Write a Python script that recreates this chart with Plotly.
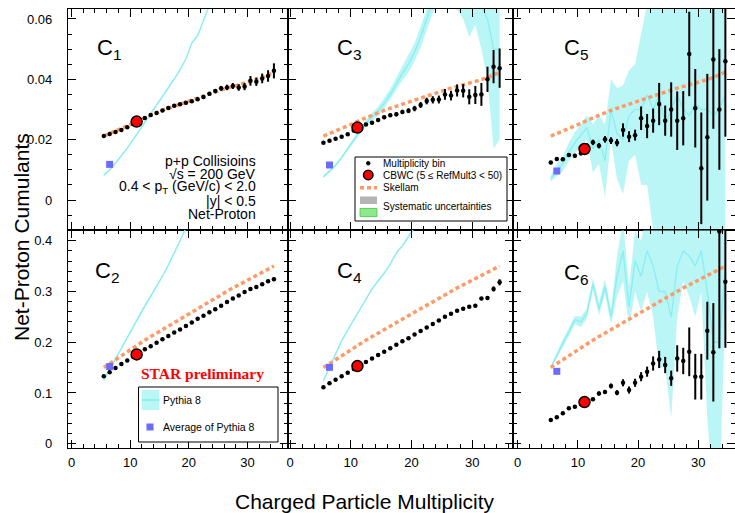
import plotly.graph_objects as go

# ---------------- data ----------------
mult = [5.5, 6.5, 7.5, 8.5, 9.5, 10.5, 11.5, 12.5, 13.5, 14.5, 15.5, 16.5, 17.5, 18.5, 19.5,
        20.5, 21.5, 22.5, 23.5, 24.5, 25.5, 26.5, 27.5, 28.5, 29.5, 30.5, 31.5, 32.5, 33.5, 34.5]

c1 = [0.0212, 0.0219, 0.0225, 0.0232, 0.0241, 0.0252, 0.0262, 0.0272, 0.0282, 0.0288, 0.0297, 0.0305,
      0.0312, 0.0317, 0.0322, 0.0327, 0.0334, 0.0341, 0.0352, 0.0361, 0.0370, 0.0373, 0.0378, 0.0373,
      0.0376, 0.0395, 0.0392, 0.0403, 0.0411, 0.0428]
c1_err = [0.0003, 0.0003, 0.0003, 0.0003, 0.0003, 0.0003, 0.0003, 0.0003, 0.0003, 0.0003, 0.0004, 0.0004,
          0.0004, 0.0004, 0.0005, 0.0005, 0.0005, 0.0006, 0.0006, 0.0007, 0.0008, 0.0009, 0.0010, 0.0011,
          0.0012, 0.0016, 0.0014, 0.0016, 0.0019, 0.0025]

c2 = [0.133, 0.141, 0.149, 0.157, 0.164, 0.172, 0.179, 0.186, 0.192, 0.199, 0.206, 0.212, 0.219, 0.225,
      0.232, 0.239, 0.246, 0.252, 0.259, 0.265, 0.272, 0.279, 0.286, 0.292, 0.299, 0.305, 0.309, 0.314,
      0.320, 0.324]
c2_err = [0.001, 0.001, 0.001, 0.001, 0.001, 0.001, 0.001, 0.001, 0.001, 0.001, 0.001, 0.001, 0.001, 0.001,
          0.001, 0.001, 0.001, 0.001, 0.001, 0.001, 0.001, 0.001, 0.001, 0.001, 0.0015, 0.002, 0.002, 0.0025,
          0.003, 0.0035]

c3 = [0.0190, 0.0196, 0.0203, 0.0210, 0.0218, 0.0230, 0.0242, 0.0250, 0.0256, 0.0265, 0.0274, 0.0281,
      0.0284, 0.0292, 0.0296, 0.0303, 0.0315, 0.0328, 0.0332, 0.0333, 0.0350, 0.0346, 0.0363, 0.0362,
      0.0342, 0.0348, 0.0350, 0.0400, 0.0442, 0.0437]
c3_err = [0.0004, 0.0004, 0.0004, 0.0004, 0.0004, 0.0004, 0.0004, 0.0004, 0.0005, 0.0005, 0.0006, 0.0006,
          0.0007, 0.0007, 0.0008, 0.0009, 0.0010, 0.0011, 0.0012, 0.0013, 0.0018, 0.0016, 0.0020, 0.0022,
          0.0025, 0.0030, 0.0038, 0.0042, 0.0055, 0.0065]

c4 = [0.111, 0.119, 0.126, 0.133, 0.140, 0.147, 0.154, 0.161, 0.168, 0.175, 0.181, 0.188, 0.195, 0.202,
      0.208, 0.215, 0.222, 0.229, 0.236, 0.243, 0.250, 0.256, 0.262, 0.266, 0.270, 0.272, 0.286, 0.287,
      0.305, 0.318]
c4_err = [0.001, 0.001, 0.001, 0.001, 0.001, 0.001, 0.001, 0.001, 0.001, 0.001, 0.001, 0.001, 0.001, 0.001,
          0.001, 0.001, 0.001, 0.001, 0.001, 0.001, 0.0015, 0.0015, 0.002, 0.002, 0.0025, 0.003, 0.003,
          0.004, 0.005, 0.006]

c5 = [0.0124, 0.0136, 0.0135, 0.0149, 0.0147, 0.0155, 0.0180, 0.0191, 0.0180, 0.0201, 0.0197, 0.0190,
      0.0232, 0.0210, 0.0215, 0.0271, 0.0245, 0.0263, 0.0318, 0.0263, 0.0300, 0.0263, 0.0271, 0.0484,
      0.0304, 0.0105, 0.0208, 0.0466, 0.0300, 0.0460]
c5_err = [0.0005, 0.0005, 0.0005, 0.0006, 0.0006, 0.0007, 0.0008, 0.0009, 0.0009, 0.0011, 0.0011, 0.0012,
          0.0022, 0.0018, 0.0018, 0.0039, 0.0040, 0.0040, 0.0070, 0.0050, 0.0090, 0.0097, 0.0090, 0.0140,
          0.0130, 0.0185, 0.0210, 0.0230, 0.0200, 0.0250]

c6 = [0.0467, 0.052, 0.060, 0.0697, 0.073, 0.078, 0.083, 0.0875, 0.099, 0.102, 0.1137, 0.1005, 0.120,
      0.1058, 0.120, 0.132, 0.1419, 0.158, 0.166, 0.155, 0.129, 0.168, 0.163, 0.181, 0.132, 0.132,
      0.2227, 0.180, 0.418, 0.319]
c6_err = [0.001, 0.0015, 0.0015, 0.002, 0.002, 0.002, 0.0025, 0.003, 0.004, 0.004, 0.005, 0.005, 0.007,
          0.007, 0.008, 0.009, 0.010, 0.014, 0.017, 0.016, 0.015, 0.026, 0.026, 0.048, 0.045, 0.045,
          0.057, 0.097, 0.230, 0.130]

# Skellam baselines (odd orders share one curve, even orders share one)
skellam_odd = [0.0212, 0.0220, 0.0228, 0.0236, 0.0245, 0.0254, 0.0264, 0.0273, 0.0281, 0.0289, 0.0297,
               0.0304, 0.0311, 0.0317, 0.0323, 0.0329, 0.0336, 0.0343, 0.0350, 0.0358, 0.0365, 0.0371,
               0.0376, 0.0381, 0.0387, 0.0393, 0.0399, 0.0406, 0.0414, 0.0424]
skellam_even = [0.150, 0.158, 0.166, 0.174, 0.182, 0.189, 0.196, 0.204, 0.211, 0.218, 0.225, 0.232,
                0.239, 0.246, 0.253, 0.260, 0.267, 0.274, 0.281, 0.288, 0.295, 0.301, 0.307, 0.313,
                0.319, 0.325, 0.331, 0.337, 0.343, 0.350]

# Pythia 8 (center, half-width of band)
pythia_c1 = [0.0082, 0.0100, 0.0122, 0.0146, 0.0172, 0.0200, 0.0228, 0.0256, 0.0285, 0.0314, 0.0343,
             0.0372, 0.0401, 0.0432, 0.0468, 0.0520, 0.0545, 0.0595, 0.0645, 0.0695]
pythia_c1_hw = [0.0003] * len(pythia_c1)
pythia_c2 = [0.125, 0.146, 0.167, 0.188, 0.209, 0.231, 0.252, 0.272, 0.291, 0.310, 0.330, 0.352, 0.375,
             0.400, 0.425, 0.450]
pythia_c2_hw = [0.002] * len(pythia_c2)
pythia_c3 = [0.0077, 0.0095, 0.0115, 0.0140, 0.0170, 0.0200, 0.0228, 0.0255, 0.0275, 0.0295, 0.0320,
             0.0350, 0.0385, 0.0420, 0.0450, 0.0490, 0.0540, 0.0600, 0.0660, 0.0700, 0.0720, 0.0750,
             0.0750, 0.0720, 0.0660, 0.0680, 0.0640, 0.0600, 0.0500, 0.0500]
pythia_c3_hw = [0.0004, 0.0004, 0.0005, 0.0006, 0.0007, 0.0008, 0.0009, 0.0011, 0.0013, 0.0015, 0.0017,
                0.0019, 0.0021, 0.0024, 0.0027, 0.0030, 0.0035, 0.0040, 0.0040, 0.0050, 0.0060, 0.0100,
                0.0120, 0.0120, 0.0120, 0.0100, 0.0140, 0.0200, 0.0330, 0.0300]
pythia_c4 = [0.124, 0.150, 0.178, 0.203, 0.224, 0.244, 0.264, 0.285, 0.305, 0.321, 0.336, 0.354, 0.376,
             0.390, 0.408, 0.425, 0.445]
pythia_c4_hw = [0.002] * len(pythia_c4)
pythia_c5 = [0.0070, 0.0100, 0.0120, 0.0160, 0.0190, 0.0215, 0.0240, 0.0170, 0.0200, 0.0130, 0.0300,
             0.0220, 0.0200, 0.0280, 0.0300, 0.0300, 0.0350, 0.0300, 0.0350, 0.0250, 0.0300, 0.0350,
             0.0300, 0.0280, 0.0320, 0.0300, 0.0300, 0.0280, 0.0300, 0.0350]
pythia_c5_hw = [0.0010, 0.0020, 0.0025, 0.0030, 0.0035, 0.0035, 0.0040, 0.0080, 0.0080, 0.0120, 0.0100,
                0.0150, 0.0180, 0.0150, 0.0150, 0.0250, 0.0300, 0.0400, 0.0450, 0.0500, 0.0500, 0.0450,
                0.0500, 0.0500, 0.0450, 0.0500, 0.0500, 0.0500, 0.0500, 0.0450]
pythia_c6 = [0.150, 0.175, 0.198, 0.220, 0.244, 0.240, 0.257, 0.315, 0.265, 0.310, 0.250, 0.330, 0.380,
             0.270, 0.360, 0.330, 0.380, 0.350, 0.300, 0.300, 0.250, 0.350, 0.380, 0.370, 0.350, 0.380,
             0.300, 0.200, 0.200, 0.350]
pythia_c6_hw = [0.003, 0.006, 0.008, 0.008, 0.008, 0.010, 0.010, 0.012, 0.012, 0.015, 0.015, 0.040, 0.060,
                0.040, 0.060, 0.070, 0.080, 0.100, 0.150, 0.150, 0.200, 0.100, 0.060, 0.080, 0.100, 0.080,
                0.250, 0.300, 0.300, 0.080]

cbwc_x = 11.1
cbwc = [0.0260, 0.176, 0.0240, 0.153, 0.0169, 0.082]        # C1..C6
pythia_avg_x = 6.5
pythia_avg = [0.0118, 0.152, 0.0116, 0.1505, 0.0096, 0.1426]  # C1..C6

x_tickvals = [0, 10, 20, 30]
y_tickvals_top = [0, 0.02, 0.04, 0.06]
y_ticktext_top = ['0', '0.02', '0.04', '0.06']
y_tickvals_bot = [0, 0.1, 0.2, 0.3, 0.4]
y_ticktext_bot = ['0', '0.1', '0.2', '0.3', '0.4']

# ---------------- layout geometry (pixels) ----------------
W, H = 735, 513
col_px = [(68, 288), (288, 513), (513, 735)]
row_px = [(9, 230), (230, 448)]  # top, bottom
x_ranges = [[-0.6, 36.9], [-0.33, 36.7], [-0.78, 36.1]]
y_ranges = [[-0.00994, 0.0633], [-0.0085, 0.4211]]

def px2x(px):
    return px / W

def px2y(py):
    return 1 - py / H

fig = go.Figure()

panels = [
    (1, 0, 0, c1, c1_err, skellam_odd, pythia_c1, pythia_c1_hw),
    (3, 0, 1, c3, c3_err, skellam_odd, pythia_c3, pythia_c3_hw),
    (5, 0, 2, c5, c5_err, skellam_odd, pythia_c5, pythia_c5_hw),
    (2, 1, 0, c2, c2_err, skellam_even, pythia_c2, pythia_c2_hw),
    (4, 1, 1, c4, c4_err, skellam_even, pythia_c4, pythia_c4_hw),
    (6, 1, 2, c6, c6_err, skellam_even, pythia_c6, pythia_c6_hw),
]

CYAN_BAND = 'rgba(120,238,240,0.5)'
CYAN_LINE = '#8beff1'
ORANGE = '#ff9a66'

font_fam = 'Liberation Sans, Arial, sans-serif'

for i, (n, r, c, data, err, sk, py, pyhw) in enumerate(panels):
    k = '' if i == 0 else str(i + 1)
    xa, ya = 'x' + k, 'y' + k
    px_ = mult[:len(py)]
    upper = [v + h for v, h in zip(py, pyhw)]
    lower = [v - h for v, h in zip(py, pyhw)]
    fig.add_trace(go.Scatter(x=px_ + px_[::-1], y=upper + lower[::-1], fill='toself',
                             fillcolor=CYAN_BAND, line=dict(width=0), mode='lines',
                             hoverinfo='skip', showlegend=False, xaxis=xa, yaxis=ya))
    fig.add_trace(go.Scatter(x=px_, y=py, mode='lines', line=dict(color=CYAN_LINE, width=1.4),
                             showlegend=False, xaxis=xa, yaxis=ya))
    fig.add_trace(go.Scatter(x=mult, y=sk, mode='lines',
                             line=dict(color=ORANGE, width=3.5, dash='4px,3px'),
                             showlegend=False, xaxis=xa, yaxis=ya))
    fig.add_trace(go.Scatter(x=mult, y=data, mode='markers',
                             marker=dict(color='black', size=4.5),
                             error_y=dict(type='data', array=err, color='black', thickness=2, width=0),
                             showlegend=False, xaxis=xa, yaxis=ya))
    fig.add_trace(go.Scatter(x=[pythia_avg_x], y=[pythia_avg[n - 1]], mode='markers',
                             marker=dict(color='#6b6bff', size=7, symbol='square'),
                             showlegend=False, xaxis=xa, yaxis=ya))
    fig.add_trace(go.Scatter(x=[cbwc_x], y=[cbwc[n - 1]], mode='markers',
                             marker=dict(color='#ff0000', size=11, line=dict(color='black', width=1.5)),
                             showlegend=False, xaxis=xa, yaxis=ya))

    x0, x1 = col_px[c]
    y0, y1 = row_px[r]
    common = dict(showline=True, linecolor='black', linewidth=1.3, mirror='allticks',
                  ticks='inside', ticklen=8, tickwidth=1.2, tickcolor='black',
                  showgrid=False, zeroline=False, automargin=False,
                  tickfont=dict(family=font_fam, size=13, color='black'))
    fig.layout['xaxis' + k] = dict(common, domain=[px2x(x0), px2x(x1)], range=x_ranges[c],
                                   anchor=ya, tickmode='array', tickvals=x_tickvals,
                                   showticklabels=(r == 1), ticklabelstandoff=2,
                                   minor=dict(ticks='inside', ticklen=4, tickwidth=1,
                                              tickcolor='black', dtick=2, tick0=0))
    if r == 0:
        tv, tt, ymin = y_tickvals_top, y_ticktext_top, 0.005
    else:
        tv, tt, ymin = y_tickvals_bot, y_ticktext_bot, 0.02
    fig.layout['yaxis' + k] = dict(common, domain=[px2y(y1), px2y(y0)], range=y_ranges[r],
                                   anchor=xa, tickmode='array', tickvals=tv, ticktext=tt,
                                   showticklabels=(c == 0), ticklabelstandoff=12,
                                   minor=dict(ticks='inside', ticklen=4, tickwidth=1,
                                              tickcolor='black', dtick=ymin, tick0=0))

annotations = []
shapes = []

def add_text(text, x, y, size, xanchor='left', yanchor='middle', color='black', family=font_fam, angle=0):
    annotations.append(dict(text=text, x=px2x(x), y=px2y(y), xref='paper', yref='paper',
                            xanchor=xanchor, yanchor=yanchor, showarrow=False, borderpad=0,
                            textangle=angle, font=dict(family=family, size=size, color=color)))

# cumulant labels
for n, (lx, ly) in {1: (96, 49), 3: (336, 49), 5: (563, 49), 2: (94, 272), 4: (336, 272), 6: (563, 274)}.items():
    add_text('C<sub>%d</sub>' % n, lx, ly, 22)

# text block in C1 panel
info = [('p+p Collisioins', 160.5), ('√s = 200 GeV', 173.5), ('0.4 < p<sub>T</sub> (GeV/c) < 2.0', 187.5),
        ('|y| < 0.5', 201), ('Net-Proton', 214)]
for t, yy in info:
    add_text(t, 257, yy, 14, xanchor='right')

# Legend in C3 panel
shapes.append(dict(type='rect', xref='paper', yref='paper', x0=px2x(355), x1=px2x(507),
                   y0=px2y(221), y1=px2y(157), line=dict(color='black', width=1), fillcolor='white'))
shapes.append(dict(type='circle', xref='paper', yref='paper', x0=px2x(366.5), x1=px2x(370),
                   y0=px2y(165), y1=px2y(161.5), line=dict(color='black', width=1), fillcolor='black'))
shapes.append(dict(type='circle', xref='paper', yref='paper', x0=px2x(363.5), x1=px2x(373),
                   y0=px2y(179.7), y1=px2y(170.3), line=dict(color='black', width=1.5), fillcolor='#ff0000'))
shapes.append(dict(type='line', xref='paper', yref='paper', x0=px2x(360), x1=px2x(377),
                   y0=px2y(187.7), y1=px2y(187.7), line=dict(color=ORANGE, width=3.5, dash='4px,3px')))
shapes.append(dict(type='rect', xref='paper', yref='paper', x0=px2x(360), x1=px2x(377),
                   y0=px2y(204), y1=px2y(196.5), line=dict(width=0), fillcolor='#b4b4b4'))
shapes.append(dict(type='rect', xref='paper', yref='paper', x0=px2x(360), x1=px2x(377),
                   y0=px2y(216.5), y1=px2y(208.5), line=dict(color='#3ccf3c', width=0.8),
                   fillcolor='#8ee88e'))
add_text('Multiplicity bin', 381.5, 163.3, 10)
add_text('CBWC (5 ≤ RefMult3 < 50)', 381.5, 175.2, 10)
add_text('Skellam', 381.5, 187.2, 10)
add_text('Systematic uncertainties', 381.5, 206.5, 10)

# Pythia legend in C2 panel
shapes.append(dict(type='rect', xref='paper', yref='paper', x0=px2x(138.5), x1=px2x(278),
                   y0=px2y(442), y1=px2y(387), line=dict(color='black', width=1), fillcolor='white'))
shapes.append(dict(type='rect', xref='paper', yref='paper', x0=px2x(141.7), x1=px2x(159.3),
                   y0=px2y(410), y1=px2y(390), line=dict(width=0), fillcolor=CYAN_BAND))
shapes.append(dict(type='line', xref='paper', yref='paper', x0=px2x(141.7), x1=px2x(159.3),
                   y0=px2y(400), y1=px2y(400), line=dict(color=CYAN_LINE, width=2)))
shapes.append(dict(type='rect', xref='paper', yref='paper', x0=px2x(146.5), x1=px2x(153.5),
                   y0=px2y(430.5), y1=px2y(423.5), line=dict(width=0), fillcolor='#6b6bff'))
add_text('Pythia 8', 162, 399.5, 10.5)
add_text('Average of Pythia 8', 162, 427, 10.5)

add_text('<b>STAR preliminary</b>', 202.5, 373, 15.5, xanchor='center', color='#ff0000',
         family='Liberation Serif, Times New Roman, serif')

# axis titles
add_text('Net-Proton Cumulants', 21, 237, 21, xanchor='center', angle=-90)
add_text('Charged Particle Multiplicity', 365, 501, 21, xanchor='center')

fig.update_layout(width=W, height=H, margin=dict(l=0, r=0, t=0, b=0, autoexpand=False),
                  paper_bgcolor='white', plot_bgcolor='white',
                  annotations=annotations, shapes=shapes, showlegend=False)

fig.write_html('out.html', config={'displayModeBar': False},
               post_script="document.body.style.margin='0';document.body.style.overflow='hidden';")
